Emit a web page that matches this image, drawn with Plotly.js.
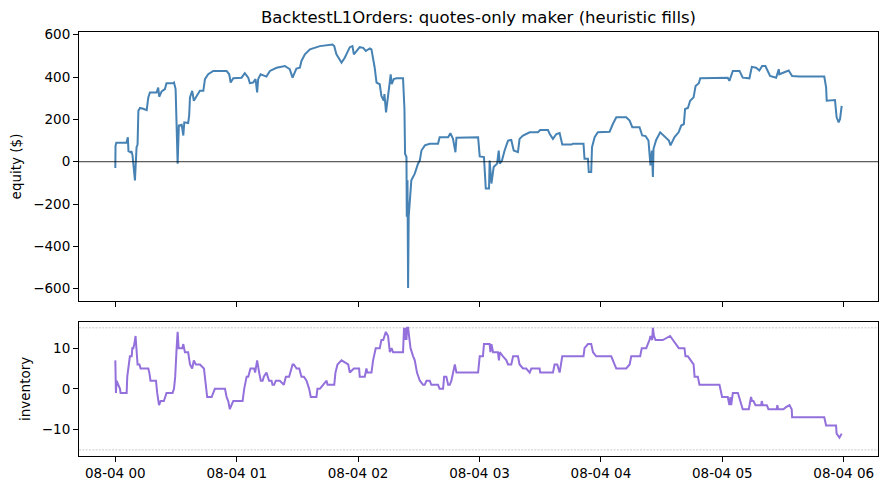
<!DOCTYPE html>
<html>
<head>
<meta charset="utf-8">
<script src="https://cdn.plot.ly/plotly-3.0.1.min.js"></script>
<style>html,body{margin:0;padding:0;background:#fff;}#chart{width:888px;height:490px;}</style>
</head>
<body>
<div id="chart"></div>
<script>
// ---- data (minutes after 2024-08-04 00:00) ----
const chartTitle = "BacktestL1Orders: quotes-only maker (heuristic fills)";
const equityLabel = "equity ($)";
const inventoryLabel = "inventory";

const eqMinutes = [0,0.1,0.5,5.5,6.2,6.5,7.5,8.0,8.5,9.7,10.5,11.0,11.4,12.2,13.8,15.5,16.3,17.1,20.4,21.2,21.7,22.9,24.5,25.3,28.6,29.0,29.8,30.3,30.8,31.4,32.8,33.6,34.1,36.0,36.5,36.9,38.0,38.8,40.2,41.8,43.5,44.3,45.9,48.4,55.0,56.3,57.0,58.3,62.4,64.0,65.7,66.5,68.1,69.3,70.1,70.6,71.8,74.7,76.4,79.7,83.8,86.2,87.6,89.5,91.2,92.0,93.7,96.2,101.1,104.4,107.3,108.2,109.3,111.8,113.4,115.9,117.2,117.9,120.8,122.5,123.8,125.8,126.6,128.2,129.1,130.7,131.5,132.7,133.0,133.8,134.5,135.3,136.1,136.6,137.6,139.0,142.2,142.9,143.2,143.9,144.05,144.4,144.7,145.0,145.7,146.3,148.0,149.6,150.5,151.3,153.0,155.4,159.5,160.3,164.5,165.6,166.9,168.1,168.6,179.3,180.1,182.2,183.1,184.7,185.0,185.9,187.0,188.7,189.5,190.0,191.1,192.4,194.1,195.7,196.9,199.0,199.8,201.5,204.8,208.9,210.0,213.8,214.7,216.3,218.0,219.6,220.9,225.4,226.2,231.4,231.9,233.6,234.0,235.2,235.6,236.9,238.5,244.3,245.9,247.6,252.5,254.2,255.5,259.1,260.4,262.1,263.5,264.5,265.2,265.7,266.0,267.3,269.3,273.6,274.4,276.4,278.4,279.7,281.0,281.6,283.0,284.1,285.8,286.8,288.4,289.1,302.7,303.5,305.2,308.5,310.1,313.4,314.6,316.7,318.3,319.7,321.3,323.6,326.6,327.9,328.2,329.9,332.8,334.5,338.1,350.4,351.3,351.6,355.7,356.5,357.5,358.2,359.0];
const eqValues = [-30,75,90,90,115,50,45,50,30,-88,69,81,241,254,250,244,304,327,327,350,307,332,343,371,371,374,343,116,-9,171,175,124,186,183,218,304,335,288,311,335,335,390,413,429,429,413,374,394,397,418,397,371,374,390,327,390,413,402,429,444,452,437,397,440,444,476,507,531,546,551,554,546,507,468,491,541,546,507,541,538,523,535,531,444,374,366,311,288,319,233,288,366,413,366,390,394,394,249,38,22,-260,-88,-596,-260,-135,-88,-56,-9,6,53,77,85,85,116,116,135,108,45,113,116,25,22,-127,-127,6,-103,-25,-9,53,-9,6,53,100,103,53,45,108,124,139,139,150,150,131,108,131,136,81,81,85,85,14,14,-49,-49,69,116,139,142,178,210,210,194,163,163,124,121,100,-17,53,-72,61,103,139,100,77,116,139,171,178,249,254,288,304,358,371,394,397,382,429,429,397,394,448,444,431,452,452,405,397,437,413,421,431,405,402,402,351,288,291,210,186,202,264];

const invMinutes = [0,0.3,0.6,1.5,2.3,2.6,5.6,5.9,6.4,7.2,8.1,8.4,8.9,9.4,10.0,10.5,11.0,11.9,12.5,16.3,16.8,17.4,20.1,20.7,21.6,22.4,24.0,25.3,28.3,29.0,29.6,30.3,30.8,31.3,33.1,33.6,34.4,36.0,36.9,38.0,38.8,39.8,41.8,43.8,45.4,47.6,49.2,54.2,55.0,55.8,56.6,57.4,58.3,62.9,63.7,64.9,65.7,66.8,68.6,69.1,70.1,71.1,71.9,72.8,73.4,74.7,76.0,77.2,77.7,78.5,79.3,81.3,83.3,84.3,85.9,87.6,88.2,89.6,90.9,92.0,93.2,94.5,95.8,96.6,99.4,99.9,101.1,102.7,104.4,104.9,108.2,108.8,109.8,111.8,115.1,115.9,117.9,120.5,120.8,123.3,124.1,124.6,126.6,127.4,128.7,130.7,131.5,132.4,133.7,134.8,135.7,136.5,137.3,142.2,142.7,143.1,143.6,143.9,144.2,144.7,145.2,145.9,147.2,148.0,149.1,150.5,152.1,152.9,153.8,155.4,156.2,159.5,160.3,162.0,162.5,163.6,164.5,165.3,166.1,166.9,167.8,168.6,179.3,180.1,181.7,182.2,185.0,185.4,185.9,186.7,189.1,189.6,190.0,191.6,193.3,194.1,195.7,196.6,199.0,199.8,201.5,203.1,204.8,205.6,209.7,210.0,216.3,217.1,218.4,219.6,220.9,231.4,231.9,233.6,235.2,236.1,237.7,245.1,245.9,247.6,252.5,254.2,255.0,259.4,260.2,262.4,264.0,264.5,265.3,265.7,266.2,267.0,270.6,274.2,275.6,277.2,278.5,281.3,281.8,283.0,284.3,285.8,286.3,287.9,288.7,298.6,299.9,302.7,303.5,304.0,304.4,305.2,307.7,309.0,310.1,313.1,314.2,314.7,315.4,316.4,319.2,319.5,320.0,322.0,322.8,326.9,327.2,327.6,330.2,331.5,333.2,334.3,334.5,350.4,351.0,351.3,356.2,356.5,357.9,358.7,359.0];
const invValues = [7,-1,2,1,0,-1,-1,3,5,8,8,10,10,11,13,10,6,6,5,5,4,2,2,-1,-4,-3,-3,-1,-1,0,3,10,14,10,10,11,9,9,6,5,7,6,6,5,-2,-2,0,0,-2,-3,-5,-4,-3,-3,0,3,3,5,5,4,7,4,2,2,3,4,2,2,1,1,2,2,1,3,3,6,6,5,5,3,3,2,0,-2,-2,0,0,1,2,1,1,4,6,7,6,4,5,5,3,3,5,4,4,7,10,10,12,12,14,13,9,10,9,9,15,12,15,12,15,15,12,10,8,7,4,2,1,1,2,2,1,1,0,0,3,3,1,1,2,4,6,4,4,8,8,11,11,9,11,9,9,7,9,8,7,6,6,8,8,6,5,5,4,5,5,4,4,6,6,4,8,8,10,11,11,9,8,8,7,5,5,6,8,8,10,10,12,13,12,15,13,12,12,13,12,11,10,10,8,8,7,6,3,3,1,1,-2,-2,-4,-2,-4,-1,-1,-3,-5,-5,-2,-3,-3,-4,-4,-3,-4,-4,-5,-5,-4,-5,-5,-4.5,-4,-5,-7,-7,-8,-9,-9,-11,-12,-11,-11];

const inventoryLimit = 15;
const eqTickVals = [-600,-400,-200,0,200,400,600];
const invTickVals = [-10,0,10];

// ---- helpers ----
const BASE = Date.UTC(2024,7,4,0,0,0);
function toDate(m){
  const d = new Date(BASE + Math.round(m*60000));
  return d.toISOString().replace('T',' ').replace('Z','');
}
const eqX = eqMinutes.map(toDate);
const invX = invMinutes.map(toDate);
const dataMin = Math.min(...eqMinutes), dataMax = Math.max(...eqMinutes);
const pad = (dataMax - dataMin) * 0.05;
const xRange = [toDate(dataMin - pad), toDate(dataMax + pad)];

const FONT = "DejaVu Sans, Liberation Sans, sans-serif";

const traces = [
  {x: eqX, y: eqValues, type:'scatter', mode:'lines', xaxis:'x', yaxis:'y',
   line:{color:'#4682B4', width:2}, hoverinfo:'skip'},
  {x: invX, y: invValues, type:'scatter', mode:'lines', xaxis:'x2', yaxis:'y2',
   line:{color:'#9370DB', width:2}, hoverinfo:'skip'}
];

const axCommon = {
  showline:true, mirror:true, linecolor:'#000', linewidth:1,
  ticks:'outside', ticklen:5, tickwidth:1, tickcolor:'#000',
  showgrid:false, zeroline:false,
  tickfont:{family:FONT, size:13.5, color:'#000'}
};

const layout = {
  width:888, height:490,
  margin:{l:79, r:10, t:32, b:34},
  paper_bgcolor:'#fff', plot_bgcolor:'#fff',
  showlegend:false,
  font:{family:FONT, color:'#000'},
  title:{text:chartTitle, font:{family:FONT, size:16.5, color:'#000'},
         xref:'paper', x:0.5, xanchor:'center', yref:'container', y:1-17/490, yanchor:'middle'},
  xaxis: Object.assign({}, axCommon, {
    type:'date', range:xRange, domain:[0,1], anchor:'y', matches:'x2',
    showticklabels:false, dtick:3600000, tick0:toDate(0), tickformat:'%m-%d %H'
  }),
  yaxis: Object.assign({}, axCommon, {
    domain:[0.3656,1], anchor:'x', range:[-657.75,612.75],
    tickvals:eqTickVals,
    title:{text:equityLabel, font:{family:FONT, size:13.5, color:'#000'}, standoff:8}
  }),
  xaxis2: Object.assign({}, axCommon, {
    type:'date', range:xRange, domain:[0,1], anchor:'y2',
    dtick:3600000, tick0:toDate(0), tickformat:'%m-%d %H'
  }),
  yaxis2: Object.assign({}, axCommon, {
    domain:[0,0.3167], anchor:'x2', range:[-16.5,16.5],
    tickvals:invTickVals,
    title:{text:inventoryLabel, font:{family:FONT, size:13.5, color:'#000'}, standoff:8}
  }),
  shapes:[
    {type:'line', xref:'x domain', yref:'y', x0:0, x1:1, y0:0, y1:0,
     line:{color:'rgba(0,0,0,0.8)', width:1}, layer:'above'},
    {type:'line', xref:'x2 domain', yref:'y2', x0:0, x1:1, y0:inventoryLimit, y1:inventoryLimit,
     line:{color:'rgba(0,0,0,0.3)', width:0.7, dash:'2px,1.3px'}, layer:'below'},
    {type:'line', xref:'x2 domain', yref:'y2', x0:0, x1:1, y0:-inventoryLimit, y1:-inventoryLimit,
     line:{color:'rgba(0,0,0,0.3)', width:0.7, dash:'2px,1.3px'}, layer:'below'}
  ]
};

Plotly.newPlot('chart', traces, layout, {staticPlot:true, displayModeBar:false});
</script>
</body>
</html>
